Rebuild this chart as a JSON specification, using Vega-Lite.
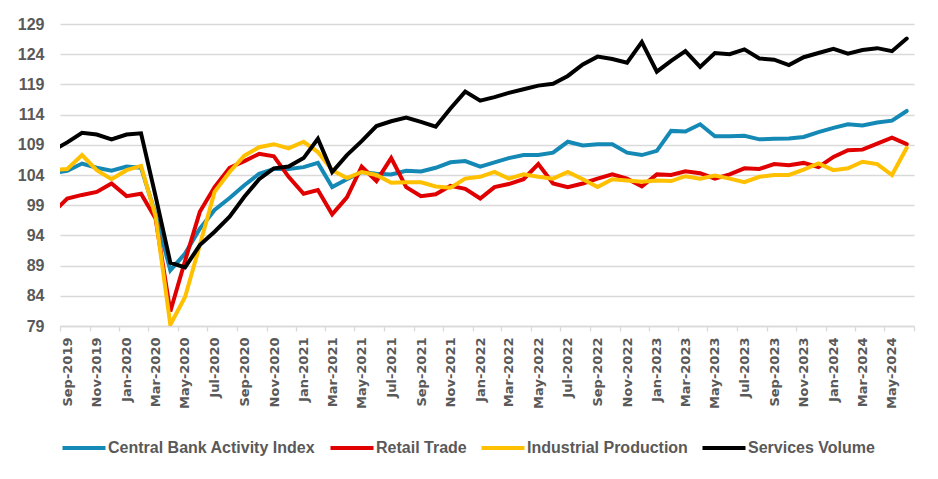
{
  "$schema": "https://vega.github.io/schema/vega-lite/v6.json",
  "width": 854,
  "height": 302,
  "autosize": {"type": "none"},
  "padding": {"left": 60, "top": 24, "right": 24, "bottom": 153},
  "background": "white",
  "config": {"view": {"stroke": null}, "font": "Liberation Sans"},
  "data": {
    "values": [
      {"month": "2019-08-01", "Central Bank Activity Index": 104.3, "Retail Trade": 97.7, "Industrial Production": 104.8, "Services Volume": 108.0},
      {"month": "2019-09-01", "Central Bank Activity Index": 104.7, "Retail Trade": 100.1, "Industrial Production": 105.0, "Services Volume": 109.4},
      {"month": "2019-10-01", "Central Bank Activity Index": 105.9, "Retail Trade": 100.7, "Industrial Production": 107.3, "Services Volume": 111.0},
      {"month": "2019-11-01", "Central Bank Activity Index": 105.2, "Retail Trade": 101.2, "Industrial Production": 104.8, "Services Volume": 110.7},
      {"month": "2019-12-01", "Central Bank Activity Index": 104.7, "Retail Trade": 102.6, "Industrial Production": 103.3, "Services Volume": 109.9},
      {"month": "2020-01-01", "Central Bank Activity Index": 105.4, "Retail Trade": 100.5, "Industrial Production": 104.8, "Services Volume": 110.7},
      {"month": "2020-02-01", "Central Bank Activity Index": 105.2, "Retail Trade": 100.9, "Industrial Production": 105.5, "Services Volume": 110.9},
      {"month": "2020-03-01", "Central Bank Activity Index": 97.5, "Retail Trade": 96.8, "Industrial Production": 97.2, "Services Volume": 100.5},
      {"month": "2020-04-01", "Central Bank Activity Index": 88.2, "Retail Trade": 81.4, "Industrial Production": 79.2, "Services Volume": 89.5},
      {"month": "2020-05-01", "Central Bank Activity Index": 91.0, "Retail Trade": 89.8, "Industrial Production": 83.8, "Services Volume": 88.7},
      {"month": "2020-06-01", "Central Bank Activity Index": 95.1, "Retail Trade": 97.9, "Industrial Production": 92.4, "Services Volume": 92.4},
      {"month": "2020-07-01", "Central Bank Activity Index": 98.2, "Retail Trade": 102.0, "Industrial Production": 101.2, "Services Volume": 94.6},
      {"month": "2020-08-01", "Central Bank Activity Index": 100.2, "Retail Trade": 105.2, "Industrial Production": 104.5, "Services Volume": 97.1},
      {"month": "2020-09-01", "Central Bank Activity Index": 102.3, "Retail Trade": 106.3, "Industrial Production": 107.2, "Services Volume": 100.4},
      {"month": "2020-10-01", "Central Bank Activity Index": 104.2, "Retail Trade": 107.5, "Industrial Production": 108.6, "Services Volume": 103.3},
      {"month": "2020-11-01", "Central Bank Activity Index": 105.0, "Retail Trade": 107.1, "Industrial Production": 109.1, "Services Volume": 105.1},
      {"month": "2020-12-01", "Central Bank Activity Index": 105.0, "Retail Trade": 103.7, "Industrial Production": 108.4, "Services Volume": 105.4},
      {"month": "2021-01-01", "Central Bank Activity Index": 105.3, "Retail Trade": 100.9, "Industrial Production": 109.5, "Services Volume": 106.8},
      {"month": "2021-02-01", "Central Bank Activity Index": 106.0, "Retail Trade": 101.5, "Industrial Production": 107.8, "Services Volume": 110.0},
      {"month": "2021-03-01", "Central Bank Activity Index": 102.0, "Retail Trade": 97.5, "Industrial Production": 104.8, "Services Volume": 104.5},
      {"month": "2021-04-01", "Central Bank Activity Index": 103.3, "Retail Trade": 100.3, "Industrial Production": 103.5, "Services Volume": 107.3},
      {"month": "2021-05-01", "Central Bank Activity Index": 104.5, "Retail Trade": 105.4, "Industrial Production": 104.5, "Services Volume": 109.6},
      {"month": "2021-06-01", "Central Bank Activity Index": 104.2, "Retail Trade": 103.0, "Industrial Production": 104.0, "Services Volume": 112.1},
      {"month": "2021-07-01", "Central Bank Activity Index": 104.1, "Retail Trade": 106.8, "Industrial Production": 102.7, "Services Volume": 112.9},
      {"month": "2021-08-01", "Central Bank Activity Index": 104.7, "Retail Trade": 102.0, "Industrial Production": 102.8, "Services Volume": 113.5},
      {"month": "2021-09-01", "Central Bank Activity Index": 104.6, "Retail Trade": 100.5, "Industrial Production": 102.8, "Services Volume": 112.8},
      {"month": "2021-10-01", "Central Bank Activity Index": 105.2, "Retail Trade": 100.8, "Industrial Production": 102.1, "Services Volume": 112.0},
      {"month": "2021-11-01", "Central Bank Activity Index": 106.1, "Retail Trade": 102.2, "Industrial Production": 101.9, "Services Volume": 115.0},
      {"month": "2021-12-01", "Central Bank Activity Index": 106.3, "Retail Trade": 101.7, "Industrial Production": 103.4, "Services Volume": 117.8},
      {"month": "2022-01-01", "Central Bank Activity Index": 105.4, "Retail Trade": 100.1, "Industrial Production": 103.7, "Services Volume": 116.3},
      {"month": "2022-02-01", "Central Bank Activity Index": 106.1, "Retail Trade": 102.0, "Industrial Production": 104.5, "Services Volume": 116.9},
      {"month": "2022-03-01", "Central Bank Activity Index": 106.8, "Retail Trade": 102.5, "Industrial Production": 103.4, "Services Volume": 117.6},
      {"month": "2022-04-01", "Central Bank Activity Index": 107.3, "Retail Trade": 103.3, "Industrial Production": 104.1, "Services Volume": 118.2},
      {"month": "2022-05-01", "Central Bank Activity Index": 107.3, "Retail Trade": 105.8, "Industrial Production": 103.7, "Services Volume": 118.8},
      {"month": "2022-06-01", "Central Bank Activity Index": 107.7, "Retail Trade": 102.6, "Industrial Production": 103.4, "Services Volume": 119.1},
      {"month": "2022-07-01", "Central Bank Activity Index": 109.5, "Retail Trade": 102.0, "Industrial Production": 104.5, "Services Volume": 120.4},
      {"month": "2022-08-01", "Central Bank Activity Index": 108.9, "Retail Trade": 102.6, "Industrial Production": 103.3, "Services Volume": 122.3},
      {"month": "2022-09-01", "Central Bank Activity Index": 109.1, "Retail Trade": 103.4, "Industrial Production": 102.0, "Services Volume": 123.6},
      {"month": "2022-10-01", "Central Bank Activity Index": 109.1, "Retail Trade": 104.1, "Industrial Production": 103.3, "Services Volume": 123.2},
      {"month": "2022-11-01", "Central Bank Activity Index": 107.7, "Retail Trade": 103.4, "Industrial Production": 103.1, "Services Volume": 122.6},
      {"month": "2022-12-01", "Central Bank Activity Index": 107.3, "Retail Trade": 102.1, "Industrial Production": 102.9, "Services Volume": 126.0},
      {"month": "2023-01-01", "Central Bank Activity Index": 108.0, "Retail Trade": 104.1, "Industrial Production": 103.1, "Services Volume": 121.1},
      {"month": "2023-02-01", "Central Bank Activity Index": 111.3, "Retail Trade": 104.0, "Industrial Production": 103.0, "Services Volume": 122.9},
      {"month": "2023-03-01", "Central Bank Activity Index": 111.2, "Retail Trade": 104.6, "Industrial Production": 103.8, "Services Volume": 124.5},
      {"month": "2023-04-01", "Central Bank Activity Index": 112.4, "Retail Trade": 104.3, "Industrial Production": 103.4, "Services Volume": 121.9},
      {"month": "2023-05-01", "Central Bank Activity Index": 110.4, "Retail Trade": 103.4, "Industrial Production": 103.9, "Services Volume": 124.2},
      {"month": "2023-06-01", "Central Bank Activity Index": 110.4, "Retail Trade": 104.1, "Industrial Production": 103.4, "Services Volume": 124.0},
      {"month": "2023-07-01", "Central Bank Activity Index": 110.5, "Retail Trade": 105.1, "Industrial Production": 102.8, "Services Volume": 124.8},
      {"month": "2023-08-01", "Central Bank Activity Index": 109.9, "Retail Trade": 105.0, "Industrial Production": 103.7, "Services Volume": 123.3},
      {"month": "2023-09-01", "Central Bank Activity Index": 110.0, "Retail Trade": 105.8, "Industrial Production": 104.0, "Services Volume": 123.1},
      {"month": "2023-10-01", "Central Bank Activity Index": 110.05, "Retail Trade": 105.6, "Industrial Production": 104.0, "Services Volume": 122.2},
      {"month": "2023-11-01", "Central Bank Activity Index": 110.3, "Retail Trade": 106.0, "Industrial Production": 104.9, "Services Volume": 123.5},
      {"month": "2023-12-01", "Central Bank Activity Index": 111.1, "Retail Trade": 105.3, "Industrial Production": 105.9, "Services Volume": 124.2},
      {"month": "2024-01-01", "Central Bank Activity Index": 111.8, "Retail Trade": 107.0, "Industrial Production": 104.8, "Services Volume": 124.9},
      {"month": "2024-02-01", "Central Bank Activity Index": 112.4, "Retail Trade": 108.1, "Industrial Production": 105.1, "Services Volume": 124.1},
      {"month": "2024-03-01", "Central Bank Activity Index": 112.2, "Retail Trade": 108.2, "Industrial Production": 106.2, "Services Volume": 124.7},
      {"month": "2024-04-01", "Central Bank Activity Index": 112.7, "Retail Trade": 109.2, "Industrial Production": 105.8, "Services Volume": 125.0},
      {"month": "2024-05-01", "Central Bank Activity Index": 113.0, "Retail Trade": 110.2, "Industrial Production": 104.0, "Services Volume": 124.5},
      {"month": "2024-06-01", "Central Bank Activity Index": 114.6, "Retail Trade": 109.1, "Industrial Production": 108.5, "Services Volume": 126.6}
    ]
  },
  "transform": [
    {"fold": ["Central Bank Activity Index", "Retail Trade", "Industrial Production", "Services Volume"], "as": ["series", "value"]}
  ],
  "mark": {"type": "line", "clip": true, "strokeWidth": 4, "strokeCap": "round"},
  "encoding": {
    "x": {
      "field": "month",
      "type": "temporal",
      "timeUnit": "utcyearmonth",
      "bandPosition": 0.5,
      "scale": {
        "domain": [
          {"year": 2019, "month": 9, "date": 1, "utc": true},
          {"year": 2024, "month": 7, "date": 1, "utc": true}
        ],
        "nice": false
      },
      "axis": {
        "title": null,
        "values": [
          {"year": 2019, "month": 9, "date": 1, "utc": true},
          {"year": 2019, "month": 11, "date": 1, "utc": true},
          {"year": 2020, "month": 1, "date": 1, "utc": true},
          {"year": 2020, "month": 3, "date": 1, "utc": true},
          {"year": 2020, "month": 5, "date": 1, "utc": true},
          {"year": 2020, "month": 7, "date": 1, "utc": true},
          {"year": 2020, "month": 9, "date": 1, "utc": true},
          {"year": 2020, "month": 11, "date": 1, "utc": true},
          {"year": 2021, "month": 1, "date": 1, "utc": true},
          {"year": 2021, "month": 3, "date": 1, "utc": true},
          {"year": 2021, "month": 5, "date": 1, "utc": true},
          {"year": 2021, "month": 7, "date": 1, "utc": true},
          {"year": 2021, "month": 9, "date": 1, "utc": true},
          {"year": 2021, "month": 11, "date": 1, "utc": true},
          {"year": 2022, "month": 1, "date": 1, "utc": true},
          {"year": 2022, "month": 3, "date": 1, "utc": true},
          {"year": 2022, "month": 5, "date": 1, "utc": true},
          {"year": 2022, "month": 7, "date": 1, "utc": true},
          {"year": 2022, "month": 9, "date": 1, "utc": true},
          {"year": 2022, "month": 11, "date": 1, "utc": true},
          {"year": 2023, "month": 1, "date": 1, "utc": true},
          {"year": 2023, "month": 3, "date": 1, "utc": true},
          {"year": 2023, "month": 5, "date": 1, "utc": true},
          {"year": 2023, "month": 7, "date": 1, "utc": true},
          {"year": 2023, "month": 9, "date": 1, "utc": true},
          {"year": 2023, "month": 11, "date": 1, "utc": true},
          {"year": 2024, "month": 1, "date": 1, "utc": true},
          {"year": 2024, "month": 3, "date": 1, "utc": true},
          {"year": 2024, "month": 5, "date": 1, "utc": true},
          {"year": 2024, "month": 7, "date": 1, "utc": true}
        ],
        "labelExpr": "datum.value >= utc(2024, 6, 1) ? '' : utcFormat(datum.value, '%b-%Y')",
        "labelAngle": -90,
        "labelOffset": 7.4,
        "labelFlush": false,
        "labelOverlap": false,
        "labelBound": false,
        "labelFont": "DejaVu Sans",
        "labelFontWeight": "bold",
        "labelFontSize": 13,
        "labelColor": "#595959",
        "labelPadding": 6,
        "tickSize": 5,
        "tickColor": "#D9D9D9",
        "tickWidth": 1.3,
        "domainColor": "#D9D9D9",
        "domainWidth": 1.3,
        "grid": false
      }
    },
    "y": {
      "field": "value",
      "type": "quantitative",
      "scale": {"domain": [79, 129], "nice": false, "zero": false},
      "axis": {
        "title": null,
        "values": [79, 84, 89, 94, 99, 104, 109, 114, 119, 124, 129],
        "grid": true,
        "gridColor": "#D9D9D9",
        "gridWidth": 1.3,
        "domain": false,
        "ticks": false,
        "tickSize": 0,
        "labelPadding": 16,
        "labelFont": "Liberation Sans",
        "labelFontWeight": "bold",
        "labelFontSize": 16,
        "labelColor": "#595959"
      }
    },
    "color": {
      "field": "series",
      "type": "nominal",
      "scale": {
        "domain": ["Central Bank Activity Index", "Retail Trade", "Industrial Production", "Services Volume"],
        "range": ["#1589B5", "#E00000", "#FFC000", "#000000"]
      },
      "legend": {
        "title": null,
        "orient": "bottom",
        "direction": "horizontal",
        "symbolType": "stroke",
        "symbolSize": 1850,
        "symbolStrokeWidth": 4,
        "labelFont": "Liberation Sans",
        "labelFontWeight": "bold",
        "labelFontSize": 16,
        "labelColor": "#595959",
        "labelOffset": 0,
        "columnPadding": 6,
        "offset": 15,
        "labelLimit": 400
      }
    }
  }
}
